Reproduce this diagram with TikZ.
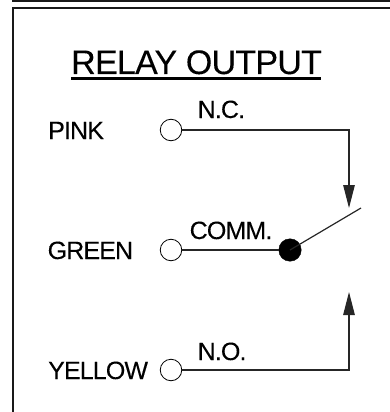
\documentclass[tikz,border=0pt]{standalone}
\usepackage{fontspec}
\setmainfont{Liberation Sans}
\newfontfamily\lblfont[LetterSpace=-3.5,FakeBold=0.15]{Liberation Sans}
\newfontfamily\ttlfont[LetterSpace=-2.2,FakeBold=0.15]{Liberation Sans}
\usetikzlibrary{arrows.meta}
\tikzset{
  lbl/.style={anchor=base west,inner sep=0pt,font=\lblfont\fontsize{25}{28}\selectfont,text=black},
  ttl/.style={anchor=base west,inner sep=0pt,font=\ttlfont\fontsize{34}{38}\selectfont,text=black},
  term/.style={circle,draw=black,fill=white,line width=0.8pt,minimum size=21.5pt,inner sep=0pt},
  comm/.style={circle,draw=black,fill=black,minimum size=22.5pt,inner sep=0pt},
  wire/.style={draw=black!85,line width=1.2pt},
  arr/.style={wire,-{Triangle[length=23pt,width=11.5pt]}},
  frame/.style={draw=black!90,line width=2pt}
}
\begin{document}
\begin{tikzpicture}[x=1pt,y=-1pt]
\useasboundingbox (0,0) rectangle (390,412);
\coordinate (topA) at (12,1);
\coordinate (topB) at (390,1);
\coordinate (boxBL) at (13,412);
\coordinate (boxTL) at (13,8);
\coordinate (boxTR) at (390,8);
\draw[frame] (topA) -- (topB);
\draw[frame] (boxBL) -- (boxTL) -- (boxTR);
\node[ttl] (title) at (71,74) {RELAY OUTPUT};
\coordinate (ulA) at (71,78.5);
\coordinate (ulB) at (321,78.5);
\draw[black,line width=2.6pt] (ulA) -- (ulB);
\node[lbl] (pink) at (48,139) {PINK};
\node[lbl] (green) at (47.5,259) {GREEN};
\node[lbl] (yellow) at (48,379) {YELLOW};
\node[lbl] (nc) at (197.5,118) {N.C.};
\node[lbl] (commt) at (189.5,239) {COMM.};
\node[lbl] (no) at (197.5,360) {N.O.};
\node[term] (t1) at (171,130) {};
\node[term] (t2) at (171,250) {};
\node[term] (t3) at (171,370) {};
\node[comm] (c) at (290,250) {};
\coordinate (tipNC) at (349,208);
\coordinate (tipNO) at (349,292);
\coordinate (sw) at (361,208);
\draw[arr] (t1.east) -| (tipNC);
\draw[arr] (t3.east) -| (tipNO);
\draw[wire] (t2.east) -- (c.west);
\draw[wire] (c.center) -- (sw);
\end{tikzpicture}
\end{document}
